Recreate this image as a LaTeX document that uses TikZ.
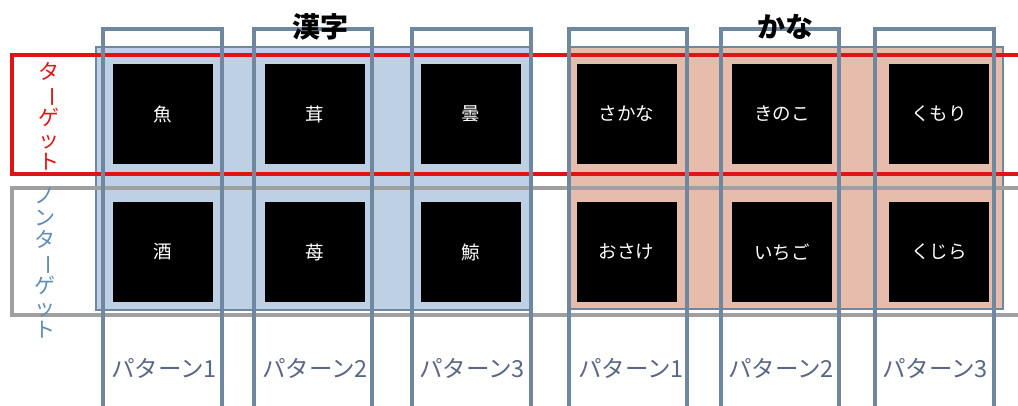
\documentclass[tikz,border=0pt]{standalone}
\usepackage{fontspec}
\newfontfamily\cjk{Noto Sans CJK JP}
\definecolor{colline}{RGB}{112,135,160}
\definecolor{kanjifill}{RGB}{190,208,227}
\definecolor{kanafill}{RGB}{230,188,172}
\definecolor{tgtred}{RGB}{224,20,20}
\definecolor{ntgray}{RGB}{160,160,160}
\definecolor{ntblue}{RGB}{95,140,180}
\definecolor{pattxt}{RGB}{90,104,136}
\newcommand{\vbar}{\rotatebox[origin=c]{-90}{ー}}
\begin{document}
\begin{tikzpicture}[x=1pt,y=-1pt,
  stim/.style={fill=black,minimum width=100pt,minimum height=100pt,inner sep=0pt,text=white,font=\cjk\fontsize{18.5}{20}\selectfont},
  colbox/.style={draw=colline,line width=3.2pt},
  region/.style={draw=colline,line width=1.6pt},
  pat/.style={text=pattxt,font=\cjk\fontsize{23.5}{26}\selectfont,inner sep=0pt},
  head/.style={font=\cjk\bfseries\fontsize{28}{30}\selectfont,inner sep=0pt},
  vlabel/.style={font=\cjk\fontsize{21}{21.8}\selectfont,align=center,inner sep=0pt}]
\useasboundingbox (0,0) rectangle (1018,406);
\clip (0,0) rectangle (1018,406);
\fill[white] (0,0) rectangle (1018,406);
% regions
\draw[region,fill=kanjifill] (96,47) rectangle (531,310);
\draw[region,fill=kanafill] (569,47) rectangle (1003,309);
% target / non-target bands
\draw[draw=tgtred,line width=4.2pt] (12,55) rectangle (1040,174);
\draw[draw=ntgray,line width=3.6pt] (12,188) rectangle (1040,315);
% stimuli
\node[stim] (t1) at (163,114) {魚};
\node[stim] (t2) at (314.5,114) {茸};
\node[stim] (t3) at (470.5,114) {曇};
\node[stim] (t4) at (626.5,114) {さかな};
\node[stim] (t5) at (782,114) {きのこ};
\node[stim] (t6) at (939,114) {くもり};
\node[stim] (n1) at (163,252) {酒};
\node[stim] (n2) at (314.5,252) {苺};
\node[stim] (n3) at (470.5,252) {鯨};
\node[stim] (n4) at (626.5,252) {おさけ};
\node[stim] (n5) at (782,252) {いちご};
\node[stim] (n6) at (939,252) {くじら};
% side labels
\node[vlabel,text=tgtred] (lt) at (49,116) {タ\\\vbar\\ゲ\\ッ\\ト};
\node[vlabel,text=ntblue] (ln) at (45,263) {ノ\\ン\\タ\\\vbar\\ゲ\\ッ\\ト};
% column boxes
\draw[colbox] (103,430) -- (103,29) -- (222,29) -- (222,430);
\draw[colbox] (254,430) -- (254,29) -- (372,29) -- (372,430);
\draw[colbox] (412,430) -- (412,29) -- (531,29) -- (531,430);
\draw[colbox] (569,430) -- (569,29) -- (687,29) -- (687,430);
\draw[colbox] (721,430) -- (721,29) -- (839,29) -- (839,430);
\draw[colbox] (875,430) -- (875,29) -- (994,29) -- (994,430);
% headings
\node[head] (hk) at (320,27) {漢字};
\node[head] (hn) at (785,27) {かな};
% pattern labels
\node[pat] (p1) at (164,368) {パターン1};
\node[pat] (p2) at (315,368) {パターン2};
\node[pat] (p3) at (472,368) {パターン3};
\node[pat] (p4) at (631,368) {パターン1};
\node[pat] (p5) at (781,368) {パターン2};
\node[pat] (p6) at (935,368) {パターン3};
\end{tikzpicture}
\end{document}
